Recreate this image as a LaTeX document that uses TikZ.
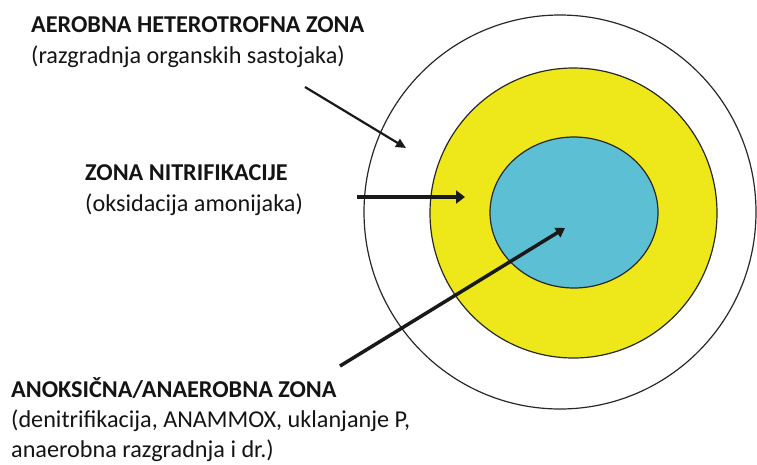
\documentclass[tikz,border=0pt]{standalone}
\usepackage{fontspec}
\setmainfont{Carlito}
\usetikzlibrary{arrows.meta,shapes.geometric}
\definecolor{zyellow}{RGB}{238,231,26}
\definecolor{zblue}{RGB}{92,191,212}
\definecolor{zline}{RGB}{40,40,40}
\tikzset{
  ring/.style={draw=zline, line width=1.2pt},
  head/.style={font=\fontsize{24.2}{30}\selectfont\bfseries, anchor=base west, inner sep=0pt, text=black!92},
  sub/.style={font=\fontsize{24.2}{30}\selectfont, anchor=base west, inner sep=0pt, text=black!92},
  pointer/.style={draw=black!90, -{Triangle[length=10pt,width=9pt]}},
}
\begin{document}
\begin{tikzpicture}[x=1pt,y=-1pt]
\useasboundingbox (0,0) rectangle (757,464);
% zones
\node[ring, ellipse, minimum width=392pt, minimum height=394pt, inner sep=0pt] (outer) at (560,212) {};
\node[ring, fill=zyellow, ellipse, minimum width=287pt, minimum height=290pt, inner sep=0pt] (yellow) at (573.5,213) {};
\node[ring, fill=zblue, ellipse, minimum width=168pt, minimum height=151pt, inner sep=0pt] (blue) at (574,212.5) {};
% labels
\node[head] (t1) at (31,32) {AEROBNA HETEROTROFNA ZONA};
\node[sub] (t1b) at (31,63) {(razgradnja organskih sastojaka)};
\node[head] (t2) at (85,180) {ZONA NITRIFIKACIJE};
\node[sub] (t2b) at (85,211) {(oksidacija amonijaka)};
\node[head] (t3) at (11,397) {ANOKSIČNA/ANAEROBNA ZONA};
\node[sub] (t3b) at (11,427) {(denitrifikacija, ANAMMOX, uklanjanje P,};
\node[sub] (t3c) at (11,457) {anaerobna razgradnja i dr.)};
% arrows
\coordinate (a1s) at (305,87);
\coordinate (a1e) at (406,148);
\coordinate (a2s) at (357,197);
\coordinate (a2e) at (465,197);
\coordinate (a3s) at (340,366);
\coordinate (a3e) at (565,228);
\draw[pointer, line width=2.2pt] (a1s) -- (a1e);
\draw[pointer, line width=4.5pt, -{Triangle[length=9pt,width=13pt]}] (a2s) -- (a2e);
\draw[pointer, line width=3.5pt, -{Triangle[length=9pt,width=11pt]}] (a3s) -- (a3e);
\end{tikzpicture}
\end{document}
